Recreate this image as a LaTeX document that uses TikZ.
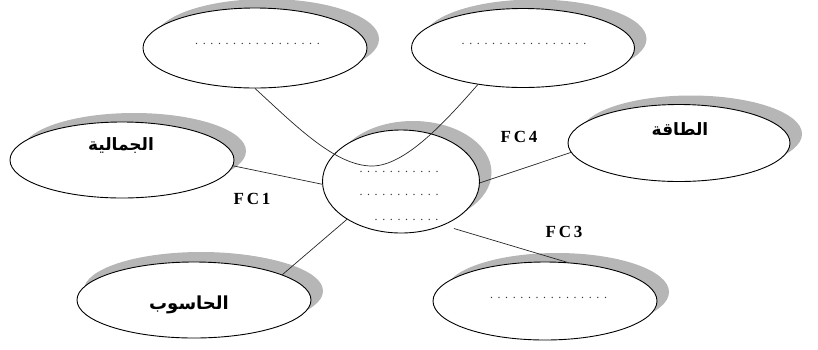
\documentclass[tikz,border=0pt]{standalone}
\usepackage{fontspec}
\setmainfont{Liberation Serif}
\newfontfamily\arabicfont[Script=Arabic]{DejaVu Sans}
\newfontfamily\fcfont[LetterSpace=16]{Liberation Serif}
\TeXXeTstate=1
\usetikzlibrary{shapes.geometric,shadows}
\definecolor{shadowgray}{RGB}{182,182,182}
\newcommand\dotsrow[1]{\foreach \i in {1,...,#1}{\makebox[7.6pt]{.}}}
\tikzset{
  bub/.style={ellipse, draw=black, line width=0.9pt, fill=white, inner sep=0pt,
    drop shadow={shadow xshift=12pt, shadow yshift=9pt, fill=shadowgray, opacity=1}},
  link/.style={draw=black!85, line width=0.7pt},
  fc/.style={font=\fcfont\bfseries\fontsize{17}{17}\selectfont, inner sep=0pt},
  ar/.style={font=\arabicfont\bfseries\fontsize{17}{17}\selectfont, inner sep=0pt},
  arb/.style={font=\arabicfont\bfseries\fontsize{18}{18}\selectfont, inner sep=0pt},
  dotrow/.style={font=\fontsize{12}{12}\selectfont, text=black!80, inner sep=0pt}
}
\begin{document}
\begin{tikzpicture}[x=1pt,y=-1pt]
\useasboundingbox (0,0) rectangle (818,349);
% bubbles
\node[bub, minimum width=224pt, minimum height=80pt] (tl) at (255,48) {};
\node[bub, minimum width=223pt, minimum height=79pt] (tr) at (523,48) {};
\node[bub, minimum width=224pt, minimum height=76pt] (jm) at (122,160) {};
\node[bub, minimum width=222pt, minimum height=77pt] (ta) at (679,143) {};
\node[bub, minimum width=234pt, minimum height=76pt,
  drop shadow={shadow xshift=7pt, shadow yshift=10pt, fill=shadowgray, opacity=1}] (bl) at (194,300) {};
\node[bub, minimum width=224pt, minimum height=78pt] (br) at (545,301) {};
\node[bub, minimum width=157pt, minimum height=103pt] (c) at (401,181.5) {};
% connectors
\coordinate (dip) at (372,166);
\draw[link] (tl.south) .. controls (295,125) and (335,166) .. (dip)
            .. controls (405,166) and (445,122) .. (tr.219);
\draw[link] (jm.-3) -- (c.182);
\draw[link] (c.-1) -- (ta.185);
\draw[link] (c.215) -- (bl.16);
\draw[link, shorten <=11pt] (c.-46) -- (br.60);
% labels
\node[fc] (fc1) at (252,199) {FC1};
\node[fc] (fc4) at (519,137) {FC4};
\node[fc] (fc3) at (564,232) {FC3};
\node[ar] (tjm) at (121,146) {\beginR الجمالية\endR};
\node[ar] (tta) at (680,129) {\beginR الطاقة\endR};
\node[arb] (tbl) at (189,305) {\beginR الحاسوب\endR};
% dotted placeholders
\node[dotrow, anchor=base] (d1) at (257.5,44) {\dotsrow{17}};
\node[dotrow, anchor=base] (d2) at (524,44) {\dotsrow{17}};
\node[dotrow, anchor=base] (d3) at (548.5,298) {\dotsrow{16}};
\node[dotrow, anchor=base east] (c1) at (441,172) {\dotsrow{11}};
\node[dotrow, anchor=base east] (c2) at (441,195) {\dotsrow{11}};
\node[dotrow, anchor=base east] (c3) at (441,220) {\dotsrow{9}};
\end{tikzpicture}
\end{document}
